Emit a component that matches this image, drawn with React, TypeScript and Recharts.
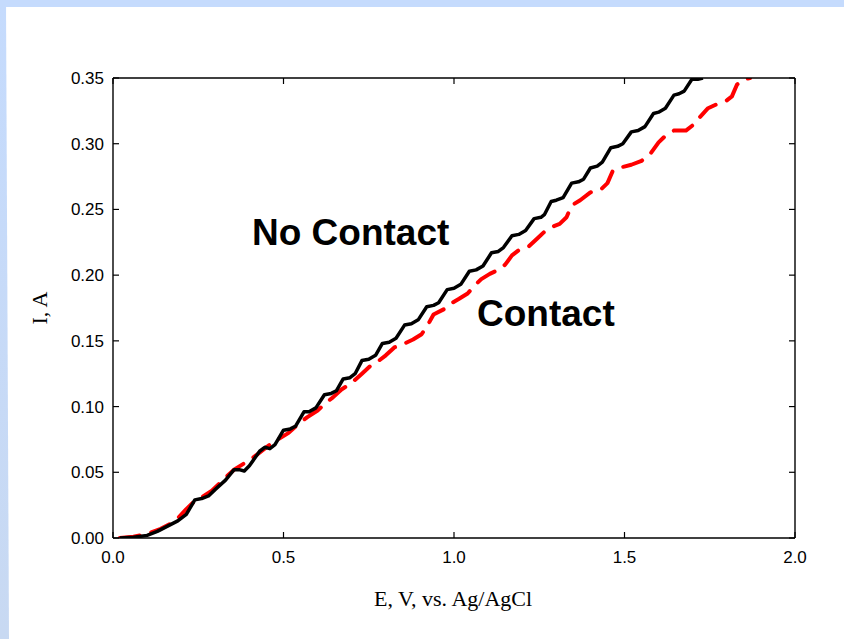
import React from 'react';
import { LineChart, Line, XAxis, YAxis } from 'recharts';

// "No Contact" (black, solid)
const noContactE = [0.02, 0.06, 0.10, 0.13, 0.16, 0.19, 0.215, 0.24, 0.26, 0.28, 0.30, 0.33, 0.355, 0.37, 0.385, 0.40, 0.43, 0.445, 0.46, 0.475, 0.50, 0.52, 0.535, 0.56, 0.575, 0.595, 0.62, 0.64, 0.655, 0.675, 0.695, 0.71, 0.73, 0.75, 0.77, 0.79, 0.81, 0.83, 0.855, 0.875, 0.895, 0.92, 0.94, 0.955, 0.98, 1.00, 1.02, 1.045, 1.065, 1.085, 1.11, 1.13, 1.145, 1.17, 1.19, 1.21, 1.235, 1.255, 1.265, 1.285, 1.30, 1.32, 1.345, 1.365, 1.38, 1.40, 1.42, 1.435, 1.46, 1.48, 1.495, 1.52, 1.54, 1.56, 1.585, 1.60, 1.62, 1.645, 1.66, 1.675, 1.70, 1.715, 1.73];
const noContactI = [0.000, 0.0005, 0.002, 0.005, 0.009, 0.013, 0.018, 0.029, 0.030, 0.032, 0.037, 0.044, 0.052, 0.052, 0.051, 0.055, 0.066, 0.069, 0.068, 0.071, 0.082, 0.083, 0.085, 0.096, 0.096, 0.099, 0.109, 0.110, 0.112, 0.121, 0.122, 0.125, 0.135, 0.136, 0.139, 0.148, 0.149, 0.152, 0.162, 0.163, 0.166, 0.176, 0.177, 0.179, 0.189, 0.190, 0.193, 0.203, 0.204, 0.207, 0.217, 0.218, 0.221, 0.230, 0.231, 0.234, 0.243, 0.244, 0.246, 0.256, 0.257, 0.259, 0.270, 0.271, 0.273, 0.2815, 0.283, 0.286, 0.297, 0.298, 0.300, 0.309, 0.310, 0.313, 0.323, 0.324, 0.327, 0.337, 0.338, 0.340, 0.350, 0.349, 0.350];

// "Contact" (red, dashed)
const contactE = [0.02, 0.06, 0.10, 0.14, 0.17, 0.19, 0.215, 0.235, 0.26, 0.29, 0.31, 0.33, 0.355, 0.38, 0.41, 0.44, 0.465, 0.49, 0.515, 0.545, 0.57, 0.60, 0.625, 0.645, 0.67, 0.70, 0.73, 0.755, 0.78, 0.80, 0.825, 0.855, 0.88, 0.905, 0.925, 0.94, 0.97, 0.995, 1.015, 1.04, 1.06, 1.08, 1.105, 1.13, 1.15, 1.17, 1.19, 1.22, 1.245, 1.265, 1.29, 1.31, 1.33, 1.345, 1.37, 1.40, 1.43, 1.45, 1.465, 1.49, 1.52, 1.55, 1.575, 1.60, 1.62, 1.645, 1.68, 1.70, 1.72, 1.745, 1.77, 1.80, 1.815, 1.83, 1.85, 1.868];
const contactI = [0.000, 0.001, 0.003, 0.007, 0.011, 0.015, 0.022, 0.027, 0.031, 0.036, 0.041, 0.046, 0.052, 0.056, 0.061, 0.067, 0.072, 0.076, 0.080, 0.087, 0.092, 0.097, 0.103, 0.107, 0.113, 0.118, 0.125, 0.131, 0.135, 0.139, 0.145, 0.148, 0.151, 0.155, 0.163, 0.170, 0.174, 0.179, 0.182, 0.186, 0.192, 0.197, 0.201, 0.204, 0.208, 0.215, 0.219, 0.222, 0.228, 0.233, 0.237, 0.239, 0.244, 0.253, 0.257, 0.263, 0.265, 0.270, 0.279, 0.282, 0.284, 0.287, 0.292, 0.301, 0.306, 0.310, 0.310, 0.314, 0.320, 0.327, 0.330, 0.333, 0.336, 0.345, 0.349, 0.350];

const xTicks = [0, 0.5, 1.0, 1.5, 2.0];
const yTicks = [0, 0.05, 0.10, 0.15, 0.20, 0.25, 0.30, 0.35];

const xTitle = 'E, V, vs. Ag/AgCl';
const yTitle = 'I, A';
const labelNoContact = 'No Contact';
const labelContact = 'Contact';

const noContactData = noContactE.map((e, i) => ({ E: e, I: noContactI[i] }));
const contactData = contactE.map((e, i) => ({ E: e, I: contactI[i] }));

const tickStyle = { fontFamily: 'Liberation Sans, Arial, sans-serif', fontSize: 17, fill: '#000' };
const axisLine = { stroke: '#000', strokeWidth: 1.4 };
const tickLine = { stroke: '#000', strokeWidth: 1.2 };
const blank = () => '';

export default function App() {
  return (
    <div style={{ position: 'absolute', left: 0, top: 0, width: 844, height: 639, background: '#fff', overflow: 'hidden' }}>
      <div style={{ position: 'absolute', left: 0, top: 0, width: 844, height: 7, background: '#C5DBFD' }} />
      <div
        style={{
          position: 'absolute', left: 0, top: 0, width: 10, height: 639,
          background: 'linear-gradient(to bottom, #C5DBFD, #C8D9F2)',
          clipPath: 'polygon(0 0, 6px 0, 9px 639px, 0 639px)',
        }}
      />
      <div style={{ position: 'absolute', left: 0, top: 0 }}>
        <LineChart width={844} height={639} margin={{ top: 77, right: 48, bottom: 71, left: 53 }}>
          <XAxis
            xAxisId="b"
            type="number"
            dataKey="E"
            domain={[0, 2]}
            ticks={xTicks}
            tickFormatter={(v: number) => v.toFixed(1)}
            tick={tickStyle}
            axisLine={axisLine}
            tickLine={tickLine}
            tickSize={-6}
            tickMargin={19}
            height={30}
            allowDataOverflow
          />
          <XAxis
            xAxisId="t"
            orientation="top"
            type="number"
            dataKey="E"
            domain={[0, 2]}
            ticks={xTicks}
            tickFormatter={blank}
            tick={tickStyle}
            axisLine={axisLine}
            tickLine={tickLine}
            tickSize={-6}
            height={1}
            allowDataOverflow
          />
          <YAxis
            yAxisId="l"
            type="number"
            domain={[0, 0.35]}
            ticks={yTicks}
            tickFormatter={(v: number) => v.toFixed(2)}
            tick={tickStyle}
            axisLine={axisLine}
            tickLine={tickLine}
            tickSize={-6}
            tickMargin={15}
            width={60}
            allowDataOverflow
          />
          <YAxis
            yAxisId="r"
            orientation="right"
            type="number"
            domain={[0, 0.35]}
            ticks={yTicks}
            tickFormatter={blank}
            tick={tickStyle}
            axisLine={axisLine}
            tickLine={tickLine}
            tickSize={-6}
            width={1}
            allowDataOverflow
          />
          <Line
            xAxisId="b"
            yAxisId="l"
            data={contactData}
            dataKey="I"
            type="linear"
            stroke="#FF0000"
            strokeWidth={4}
            strokeDasharray="20 12"
            strokeLinejoin="round"
            strokeLinecap="round"
            dot={false}
            isAnimationActive={false}
          />
          <Line
            xAxisId="b"
            yAxisId="l"
            data={noContactData}
            dataKey="I"
            type="linear"
            stroke="#000000"
            strokeWidth={3.5}
            strokeLinejoin="round"
            dot={false}
            isAnimationActive={false}
          />
          <Line
            xAxisId="t"
            yAxisId="r"
            data={noContactData}
            dataKey="I"
            type="linear"
            stroke="none"
            dot={false}
            activeDot={false}
            legendType="none"
            isAnimationActive={false}
          />
        </LineChart>
      </div>
      <svg width={844} height={639} style={{ position: 'absolute', left: 0, top: 0, pointerEvents: 'none' }}>
        <text x={252} y={245} fontFamily="Liberation Sans, Arial, sans-serif" fontWeight="bold" fontSize={37} fill="#000">
          {labelNoContact}
        </text>
        <text x={477} y={326} fontFamily="Liberation Sans, Arial, sans-serif" fontWeight="bold" fontSize={37} fill="#000">
          {labelContact}
        </text>
        <text x={453} y={606} textAnchor="middle" fontFamily="Liberation Serif, Times New Roman, serif" fontSize={22} fill="#000">
          {xTitle}
        </text>
        <text
          x={47}
          y={308}
          textAnchor="middle"
          transform="rotate(-90 47 308)"
          fontFamily="Liberation Serif, Times New Roman, serif"
          fontSize={22}
          fill="#000"
        >
          {yTitle}
        </text>
      </svg>
    </div>
  );
}
